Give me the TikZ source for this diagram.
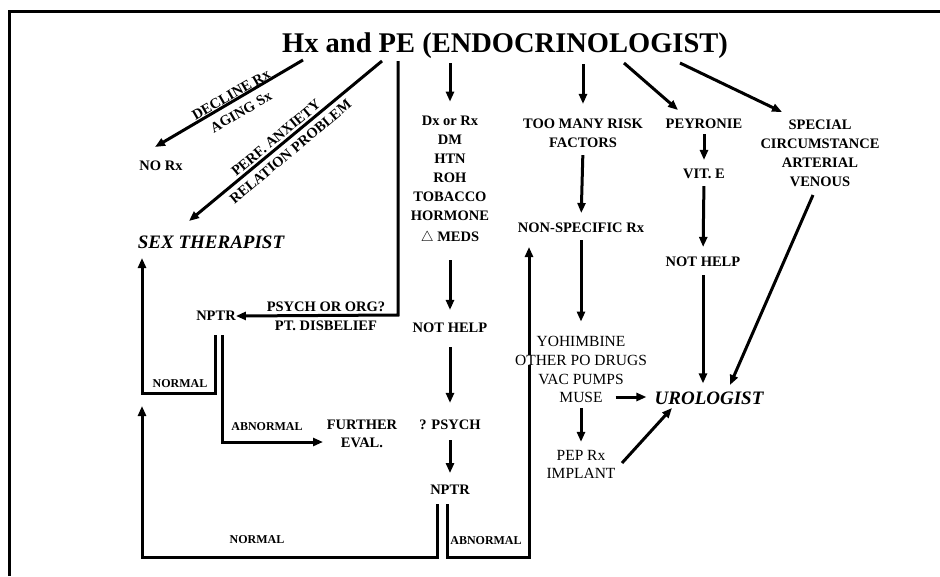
\documentclass[tikz,border=0pt]{standalone}
\usepackage{fontspec}
\setmainfont{Liberation Serif}
\usetikzlibrary{arrows.meta,backgrounds}
\begin{document}
\begin{tikzpicture}[x=1pt,y=-1pt,
  lbl/.style={font=\fontsize{14.5}{19}\selectfont\bfseries,inner sep=1pt,align=center},
  reg/.style={font=\fontsize{15.5}{18.7}\selectfont,inner sep=1pt,align=center},
  big/.style={font=\fontsize{19}{22}\selectfont\bfseries\itshape,inner sep=1pt},
  tag/.style={font=\fontsize{12}{14}\selectfont\bfseries,inner sep=1pt},
  wire/.style={line width=3pt},
  arr/.style={wire,-{Triangle[length=10pt,width=8pt]}},
  frame/.style={line width=3pt}
]
\useasboundingbox (0,0) rectangle (940,576);

% ---------- nodes ----------
\node[font=\fontsize{28.5}{32}\selectfont\bfseries,inner sep=1pt,anchor=base] (title) at (505,52) {Hx and PE (ENDOCRINOLOGIST)};

\node[lbl] (norx) at (161,166) {NO Rx};
\node[big] (sext) at (211,242) {SEX THERAPIST};

\node[lbl,rotate=30] (decl) at (231,95) {DECLINE Rx};
\node[lbl,rotate=30] (aging) at (241,112) {AGING Sx};
\node[lbl,rotate=39.7] (perf) at (276,138) {PERF. ANXIETY};
\node[lbl,rotate=39.7] (relat) at (290.5,151.5) {RELATION PROBLEM};

\node[lbl] (nptrA) at (216,316) {NPTR};
\node[lbl] (psy) at (326,307) {PSYCH OR ORG?};
\node[lbl] (disb) at (326,326) {PT. DISBELIEF};
\node[tag] (normA) at (180,384) {NORMAL};
\node[tag] (abnA) at (267,427) {ABNORMAL};
\node[lbl] (further) at (362,434) {FURTHER\\[-1pt]EVAL.};

\node[lbl] (dx) at (450,180) {Dx or Rx\\DM\\HTN\\ROH\\TOBACCO\\HORMONE\\[2pt]$\triangle$ MEDS};
\node[lbl] (helpA) at (450,328) {NOT HELP};
\node[lbl] (qpsy) at (450,425) {? PSYCH};
\node[lbl] (nptrB) at (450,490) {NPTR};
\node[tag] (normB) at (257,540) {NORMAL};
\node[tag] (abnB) at (486,541) {ABNORMAL};

\node[lbl] (many) at (583,133.5) {TOO MANY RISK\\FACTORS};
\node[lbl] (nonsp) at (581,228) {NON-SPECIFIC Rx};
\node[reg] (yoh) at (581,341) {YOHIMBINE};
\node[reg,fill=white,inner ysep=0pt] (other) at (581,360) {OTHER PO DRUGS};
\node[reg] (vac) at (581,379) {VAC PUMPS};
\node[reg] (muse) at (581,397) {MUSE};
\node[reg] (pep) at (581,464.5) {PEP Rx\\IMPLANT};
\node[big] (uro) at (709,398) {UROLOGIST};

\node[lbl] (peyr) at (704,124) {PEYRONIE};
\node[lbl] (vite) at (704,174) {VIT. E};
\node[lbl] (helpB) at (703,262) {NOT HELP};
\node[lbl] (spec) at (820,153.5) {SPECIAL\\CIRCUMSTANCE\\ARTERIAL\\VENOUS};

% ---------- coordinates ----------
\coordinate (t1) at (303,60);   \coordinate (e1) at (155,147);
\coordinate (t2) at (382,61);   \coordinate (e2) at (189,221);
\coordinate (t3) at (398,61);   \coordinate (c3) at (398,315);
\coordinate (t4) at (450,63);
\coordinate (t5) at (583,64);
\coordinate (t6) at (624,63);   \coordinate (e6) at (678,110);
\coordinate (t7) at (680,63);   \coordinate (e7) at (782,112);
\coordinate (s1) at (813,195);  \coordinate (e8) at (730,385);
\coordinate (p1) at (622,463);  \coordinate (e9) at (672,408);
\coordinate (a1) at (215,335);  \coordinate (a2) at (215,393);
\coordinate (a3) at (142,393);  \coordinate (a4) at (142,258);
\coordinate (b1) at (222,335);  \coordinate (b2) at (222,442);
\coordinate (b3) at (323,442);
\coordinate (d1) at (437,504);  \coordinate (d2) at (437,557);
\coordinate (d3) at (142,557);  \coordinate (d4) at (142,406);
\coordinate (f1) at (447,504);  \coordinate (f2) at (447,557);
\coordinate (f3) at (529,557);  \coordinate (f4) at (529,247);

% ---------- connectors ----------
\begin{scope}[on background layer]
\fill[white] (0,0) rectangle (940,576);
\draw[frame] (9,576) -- (9,11) -- (940,11);

\draw[arr] (t1) -- (e1);
\draw[arr] (t2) -- (e2);
\draw[arr] (t3) -- (c3) -- ([xshift=-1pt]nptrA.east);
\draw[arr,shorten >=13pt] (t4) -- (dx.north);
\draw[arr,shorten <=15pt,shorten >=12pt] (dx.south) -- (helpA.north);
\draw[arr,shorten <=13pt,shorten >=16pt] (helpA.south) -- (qpsy.north);
\draw[arr,shorten <=9pt,shorten >=11pt] (qpsy.south) -- (nptrB.north);

\draw[arr,shorten >=14pt] (t5) -- (many.north);
\draw[arr,shorten <=6pt,shorten >=9pt] (many.south) -- (nonsp.north);
\draw[arr,shorten <=6pt,shorten >=13pt] (nonsp.south) -- (yoh.north);
\draw[arr,shorten <=12pt,shorten >=7pt] (muse.east) -- (muse.east -| uro.west);
\draw[arr,shorten <=5pt,shorten >=7pt] (muse.south) -- (pep.north);
\draw[arr] (p1) -- (e9);

\draw[arr] (t6) -- (e6);
\draw[arr,shorten <=4pt,shorten >=8pt] (peyr.south) -- (vite.north);
\draw[arr,shorten <=6pt,shorten >=9pt] (vite.south) -- (helpB.north);
\draw[arr,shorten <=7pt,shorten >=7pt] (helpB.south) -- (helpB.south |- uro.north);

\draw[arr] (t7) -- (e7);
\draw[arr] (s1) -- (e8);

\draw[arr] (a1) -- (a2) -- (a3) -- (a4);
\draw[arr] (b1) -- (b2) -- (b3);
\draw[arr] (d1) -- (d2) -- (d3) -- (d4);
\draw[arr] (f1) -- (f2) -- (f3) -- (f4);
\end{scope}
\end{tikzpicture}
\end{document}
